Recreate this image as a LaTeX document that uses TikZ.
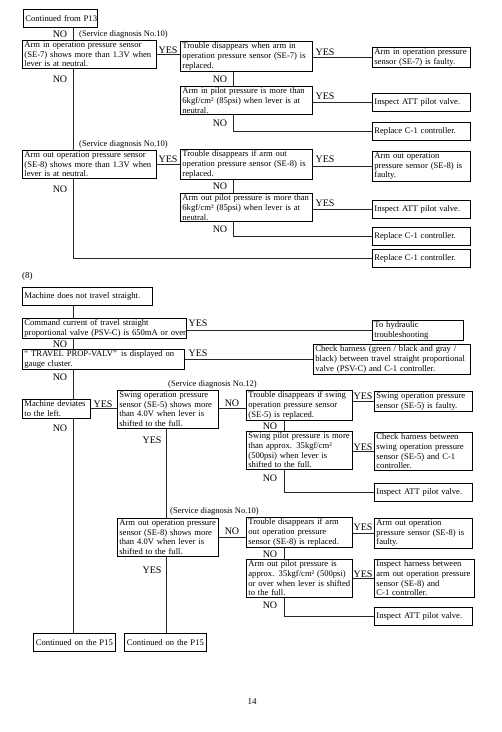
\documentclass[tikz,border=0pt]{standalone}
\usepackage{fontspec}
\setmainfont{Liberation Serif}
\newcommand\Ln[1]{\mbox{#1}}
\begin{document}
\begin{tikzpicture}[x=1pt,y=-1pt,
  bx/.style={draw, line width=0.8pt, anchor=north west, align=left, inner xsep=2pt, inner ysep=1.5pt, font=\fontsize{8.6}{9.6}\selectfont},
  one/.style={minimum height=18pt},
  lb/.style={font=\fontsize{10}{11}\selectfont, inner sep=0pt},
  sd/.style={font=\fontsize{8.5}{9}\selectfont, inner sep=0pt, anchor=west},
  cn/.style={line width=0.7pt, draw=black!85}]
\useasboundingbox[fill=white] (0,0) rectangle (502,732);
\coordinate (xa) at (73,0);
\coordinate (xb) at (233,0);
\coordinate (xc) at (166,0);
\coordinate (xd) at (284,0);
% ---------- top part ----------
\node[bx, one, align=center, text width=70pt] (cont) at (23,9) {\Ln{Continued from P13}};
\node[bx, text width=130pt] (A1) at (22,40) {\Ln{Arm in operation pressure sensor}\\\Ln{(SE-7) shows more than 1.3V when}\\\Ln{lever is at neutral.}};
\node[bx, text width=128pt] (A2) at (180,41) {\Ln{Trouble disappears when arm in}\\\Ln{operation pressure sensor (SE-7) is}\\\Ln{replaced.}};
\node[bx, text width=94pt] (A3) at (372,47) {\Ln{Arm in operation pressure}\\\Ln{sensor (SE-7) is faulty.}};
\node[bx, text width=128pt] (B1) at (180,86) {\Ln{Arm in pilot pressure is more than}\\\Ln{6kgf/cm² (85psi) when lever is at}\\\Ln{neutral.}};
\node[bx, one, text width=94pt] (B2) at (372,93) {Inspect ATT pilot valve.};
\node[bx, one, text width=94pt] (C1) at (372,122) {Replace C-1 controller.};
\node[bx, text width=130pt] (A4) at (22,150) {\Ln{Arm out operation pressure sensor}\\\Ln{(SE-8) shows more than 1.3V when}\\\Ln{lever is at neutral.}};
\node[bx, text width=128pt] (A5) at (180,149) {\Ln{Trouble disappears if arm out}\\\Ln{operation pressure sensor (SE-8) is}\\\Ln{replaced.}};
\node[bx, text width=94pt] (A6) at (372,151) {\Ln{Arm out operation}\\\Ln{pressure sensor (SE-8) is}\\\Ln{faulty.}};
\node[bx, text width=128pt] (B3) at (180,193) {\Ln{Arm out pilot pressure is more than}\\\Ln{6kgf/cm² (85psi) when lever is at}\\\Ln{neutral.}};
\node[bx, one, text width=94pt] (B4) at (372,200) {Inspect ATT pilot valve.};
\node[bx, one, text width=94pt] (C2) at (372,227) {Replace C-1 controller.};
\node[bx, one, text width=94pt] (C3) at (372,249) {Replace C-1 controller.};

\draw[cn] (cont.south -| xa) -- (A1.north -| xa);
\node[lb] (n1) at (60,34) {NO};
\node[sd] (sd1) at (79,34) {(Service diagnosis No.10)};
\draw[cn] (A1.east) -- (A1.east -| A2.west);
\node[lb] (y1) at (168,50) {YES};
\draw[cn] (A3.west -| A2.east) -- (A3.west);
\node[lb] (y2) at (325,52) {YES};
\draw[cn] (A2.south -| xb) -- (B1.north -| xb);
\node[lb] (n2) at (220,79) {NO};
\draw[cn] (B2.west -| B1.east) -- (B2.west);
\node[lb] (y3) at (325,96) {YES};
\draw[cn] (B1.south -| xb) |- (C1.west);
\node[lb] (n3) at (220,123) {NO};
\draw[cn] (A1.south -| xa) -- (A4.north -| xa);
\node[lb] (n4) at (60,79) {NO};
\node[sd] (sd2) at (79,144) {(Service diagnosis No.10)};
\draw[cn] (A4.east) -- (A4.east -| A5.west);
\node[lb] (y4) at (168,159) {YES};
\draw[cn] (A6.west -| A5.east) -- (A6.west);
\node[lb] (y5) at (325,159) {YES};
\draw[cn] (A5.south -| xb) -- (B3.north -| xb);
\node[lb] (n5) at (220,186) {NO};
\draw[cn] (B4.west -| B3.east) -- (B4.west);
\node[lb] (y6) at (325,203) {YES};
\draw[cn] (B3.south -| xb) |- (C2.west);
\node[lb] (n6) at (220,229) {NO};
\draw[cn] (A4.south -| xa) |- (C3.west);
\node[lb] (n7) at (60,189) {NO};

% ---------- section (8) ----------
\node[anchor=west, inner sep=0pt, font=\fontsize{9}{10}\selectfont] (s8) at (22,276) {(8)};
\node[bx, one, text width=126pt] (M1) at (22,287) {Machine does not travel straight.};
\node[bx, text width=160pt] (M2) at (22,318) {\Ln{Command current of travel straight}\\\Ln{proportional valve (PSV-C) is 650mA or over.}};
\node[bx, text width=87pt] (M3) at (372,320) {\Ln{To hydraulic}\\\Ln{troubleshooting}};
\node[bx, text width=158pt] (M4) at (22,349) {\Ln{“ TRAVEL PROP-VALV”\enspace is displayed on}\\\Ln{gauge cluster.}};
\node[bx, text width=153pt] (M5) at (313,344) {\Ln{Check harness (green / black and gray /}\\\Ln{black) between travel straight proportional}\\\Ln{valve (PSV-C) and C-1 controller.}};
\node[sd] (sd3) at (168,384) {(Service diagnosis No.12)};
\node[bx, text width=64pt] (M6) at (22,399) {\Ln{Machine deviates}\\\Ln{to the left.}};
\node[bx, text width=97pt] (M7) at (117,390) {\Ln{Swing operation pressure}\\\Ln{sensor (SE-5) shows more}\\\Ln{than 4.0V when lever is}\\\Ln{shifted to the full.}};
\node[bx, text width=102pt] (M8) at (246,390) {\Ln{Trouble disappears if swing}\\\Ln{operation pressure sensor}\\\Ln{(SE-5) is replaced.}};
\node[bx, text width=94pt] (M9) at (374,391) {\Ln{Swing operation pressure}\\\Ln{sensor (SE-5) is faulty.}};
\node[bx, text width=102pt] (M10) at (246,431) {\Ln{Swing pilot pressure is more}\\\Ln{than approx. 35kgf/cm²}\\\Ln{(500psi) when lever is}\\\Ln{shifted to the full.}};
\node[bx, text width=94pt] (M11) at (374,432) {\Ln{Check harness between}\\\Ln{swing operation pressure}\\\Ln{sensor (SE-5) and C-1}\\\Ln{controller.}};
\node[bx, one, text width=94pt] (M12) at (374,483) {Inspect ATT pilot valve.};
\node[sd] (sd4) at (170,511) {(Service diagnosis No.10)};
\node[bx, text width=97pt] (M13) at (117,518) {\Ln{Arm out operation pressure}\\\Ln{sensor (SE-8) shows more}\\\Ln{than 4.0V when lever is}\\\Ln{shifted to the full.}};
\node[bx, text width=102pt] (M14) at (246,517) {\Ln{Trouble disappears if arm}\\\Ln{out operation pressure}\\\Ln{sensor (SE-8) is replaced.}};
\node[bx, text width=94pt] (M15) at (374,518) {\Ln{Arm out operation}\\\Ln{pressure sensor (SE-8) is}\\\Ln{faulty.}};
\node[bx, text width=102pt] (M16) at (246,559) {\Ln{Arm out pilot pressure is}\\\Ln{approx. 35kgf/cm² (500psi)}\\\Ln{or over when lever is shifted}\\\Ln{to the full.}};
\node[bx, text width=96pt] (M17) at (374,559) {\Ln{Inspect harness between}\\\Ln{arm out operation pressure}\\\Ln{sensor (SE-8) and}\\\Ln{C-1 controller.}};
\node[bx, one, text width=94pt] (M18) at (374,607) {Inspect ATT pilot valve.};
\node[bx, one, align=center, text width=78pt] (P15a) at (33,633) {\Ln{Continued on the P15}};
\node[bx, one, align=center, text width=78pt] (P15b) at (124,633) {\Ln{Continued on the P15}};
\node[inner sep=0pt, font=\fontsize{9}{10}\selectfont] (pg) at (252,702) {14};

\draw[cn] (M1.south -| xa) -- (M2.north -| xa);
\draw[cn] (M3.west -| M2.east) -- (M3.west);
\node[lb] (y7) at (198,323) {YES};
\draw[cn] (M2.south -| xa) -- (M4.north -| xa);
\node[lb] (n8) at (60,344) {NO};
\draw[cn] (M4.east) -- (M4.east -| M5.west);
\node[lb] (y8) at (198,353) {YES};
\draw[cn] (M4.south -| xa) -- (M6.north -| xa);
\node[lb] (n9) at (60,377) {NO};
\draw[cn] (M6.east) -- (M6.east -| M7.west);
\node[lb] (y9) at (103,404) {YES};
\draw[cn] (M6.east -| M7.east) -- (M6.east -| M8.west);
\node[lb] (n10) at (232,403) {NO};
\draw[cn] (M9.west -| M8.east) -- (M9.west);
\node[lb] (y10) at (363,396) {YES};
\draw[cn] (M8.south -| xd) -- (M10.north -| xd);
\node[lb] (n11) at (270,426) {NO};
\draw[cn] (M11.west -| M10.east) -- (M11.west);
\node[lb] (y11) at (363,447) {YES};
\draw[cn] (M10.south -| xd) |- (M12.west);
\node[lb] (n12) at (270,478) {NO};
\draw[cn] (M6.south -| xa) -- (P15a.north -| xa);
\node[lb] (n13) at (60,428) {NO};
\draw[cn] (M7.south -| xc) -- (M13.north -| xc);
\node[lb] (y12) at (152,440) {YES};
\draw[cn] (M13.east) -- (M13.east -| M14.west);
\node[lb] (n14) at (232,531) {NO};
\draw[cn] (M15.west -| M14.east) -- (M15.west);
\node[lb] (y13) at (363,527) {YES};
\draw[cn] (M14.south -| xd) -- (M16.north -| xd);
\node[lb] (n15) at (270,554) {NO};
\draw[cn] (M17.west -| M16.east) -- (M17.west);
\node[lb] (y14) at (363,574) {YES};
\draw[cn] (M16.south -| xd) |- (M18.west);
\node[lb] (n16) at (270,605) {NO};
\draw[cn] (M13.south -| xc) -- (P15b.north -| xc);
\node[lb] (y15) at (152,570) {YES};
\end{tikzpicture}
\end{document}
